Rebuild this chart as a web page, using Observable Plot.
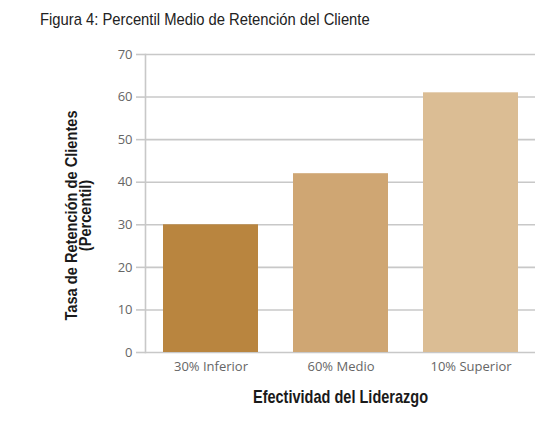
<!DOCTYPE html>
<html>
<head>
<meta charset="utf-8">
<script src="https://cdn.jsdelivr.net/npm/d3@7"></script>
<script src="https://cdn.jsdelivr.net/npm/@observablehq/plot@0.6"></script>
<style>
  body { margin: 0; background: #fff; width: 553px; height: 430px; overflow: hidden; }
  #title {
    height: 40px; box-sizing: border-box; padding: 10px 0 0 40px; white-space: nowrap;
    font-family: "Liberation Sans", Arial, sans-serif;
    font-size: 17px; line-height: 20px; color: #222;
  }
  #title span { display: inline-block; transform: scaleX(0.87); transform-origin: 0 50%; }
</style>
</head>
<body>
<div id="title"><span>Figura 4: Percentil Medio de Retención del Cliente</span></div>
<div id="chart"></div>
<script>
const categories = ["30% Inferior", "60% Medio", "10% Superior"];
const values = [30, 42, 61];
const barColors = ["#B9853F", "#CFA673", "#DBBD94"];
const yTicks = [0, 10, 20, 30, 40, 50, 60, 70];
const xLabel = "Efectividad del Liderazgo";
const yLabelLines = ["Tasa de Retención de Clientes", "(Percentil)"];

const data = categories.map((c, i) => ({category: c, value: values[i]}));
const labelFont = "'Liberation Sans', Arial, sans-serif";

const plot = Plot.plot({
  width: 553,
  height: 390,
  marginTop: 14,
  marginBottom: 78,
  marginLeft: 145,
  marginRight: 18,
  style: {fontFamily: "'Open Sans', sans-serif", fontSize: "13px", color: "#666", background: "#fff"},
  x: {domain: categories, paddingInner: 0.27, paddingOuter: 0.13, label: null},
  y: {domain: [0, 70], label: null},
  color: {domain: categories, range: barColors},
  marks: [
    Plot.gridY(yTicks, {stroke: "#c8c8c8", strokeOpacity: 1, strokeWidth: 1.6}),
    Plot.frame({anchor: "left", stroke: "#c8c8c8", strokeWidth: 1.6}),
    Plot.barY(data, {x: "category", y: "value", fill: "category"}),
    Plot.axisY({ticks: yTicks, tickSize: 9, tickPadding: 4, stroke: "#c8c8c8", strokeWidth: 1.6, fill: "#666", label: null}),
    Plot.axisX({tickSize: 0, tickPadding: 9, fill: "#666", label: null}),
    Plot.text([xLabel], {className: "xlab", frameAnchor: "bottom", dy: 45, lineAnchor: "middle", textAnchor: "middle", fontSize: 17.5, fontWeight: "bold", fill: "#1a1a1a", fontFamily: labelFont}),
    Plot.text([yLabelLines.join("\n")], {className: "ylab", frameAnchor: "left", rotate: -90, dx: -66, dy: 12, lineAnchor: "middle", textAnchor: "middle", lineHeight: 0.85, fontSize: 17, fontWeight: "bold", fill: "#1a1a1a", fontFamily: labelFont})
  ]
});
// narrow (condensed) look for the two axis titles
d3.select(plot).selectAll(".xlab text").attr("transform", function() { return (this.getAttribute("transform") || "") + " scale(0.83,1)"; });
d3.select(plot).selectAll(".ylab text").attr("transform", function() { return (this.getAttribute("transform") || "") + " scale(0.86,1)"; });
document.getElementById("chart").appendChild(plot);
</script>
</body>
</html>
